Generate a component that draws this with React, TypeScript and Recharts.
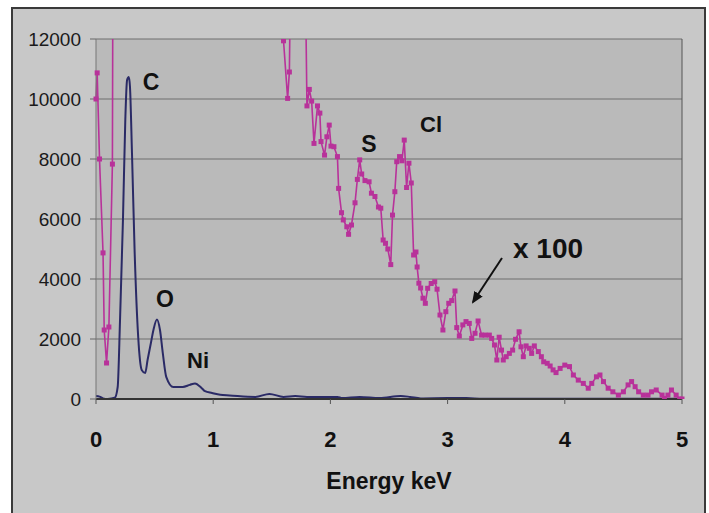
import React from 'react'
import { LineChart, Line, XAxis, YAxis, CartesianGrid, ReferenceLine } from 'recharts'

// spectrum (counts)
const spectrumE = [0, 0.03, 0.06, 0.1, 0.16, 0.185, 0.205, 0.23, 0.25, 0.265, 0.28, 0.29, 0.307, 0.33, 0.36, 0.39, 0.42, 0.44, 0.47, 0.49, 0.52, 0.546, 0.57, 0.6, 0.66, 0.74, 0.8, 0.845, 0.9, 0.93, 0.99, 1.06, 1.14, 1.36, 1.48, 1.6, 1.7, 1.8, 2.06, 2.1, 2.25, 2.42, 2.6, 2.68, 2.77, 3.0, 3.16, 3.3, 4.0, 5.0]
const spectrumCounts = [100, 80, 20, 0, 40, 400, 2630, 5970, 9300, 10630, 10730, 10400, 8200, 4870, 2070, 970, 870, 1300, 1900, 2300, 2650, 2300, 1530, 730, 400, 400, 470, 520, 370, 260, 200, 140, 120, 70, 170, 70, 100, 70, 70, 30, 70, 30, 100, 70, 20, 30, 30, 10, 10, 10]

// spectrum x 100 (values above 12000 run off the top of the plot)
const scaledE = [0, 0.01, 0.03, 0.06, 0.07, 0.09, 0.11, 0.14, 0.16, 1.58, 1.6, 1.635, 1.65, 1.665, 1.78, 1.8, 1.82, 1.84, 1.86, 1.89, 1.91, 1.92, 1.95, 1.97, 1.99, 2.005, 2.03, 2.06, 2.07, 2.095, 2.11, 2.14, 2.155, 2.18, 2.21, 2.23, 2.25, 2.267, 2.295, 2.33, 2.35, 2.38, 2.41, 2.43, 2.45, 2.47, 2.49, 2.515, 2.53, 2.55, 2.566, 2.59, 2.61, 2.63, 2.65, 2.67, 2.69, 2.71, 2.73, 2.74, 2.755, 2.77, 2.79, 2.81, 2.83, 2.86, 2.89, 2.91, 2.935, 2.96, 2.985, 3.01, 3.035, 3.063, 3.078, 3.1, 3.13, 3.157, 3.185, 3.206, 3.234, 3.26, 3.29, 3.32, 3.356, 3.376, 3.4, 3.42, 3.44, 3.46, 3.475, 3.5, 3.527, 3.555, 3.58, 3.61, 3.626, 3.646, 3.67, 3.697, 3.717, 3.74, 3.774, 3.8, 3.82, 3.85, 3.875, 3.9, 3.925, 3.96, 4.0, 4.04, 4.073, 4.115, 4.158, 4.2, 4.23, 4.27, 4.3, 4.33, 4.37, 4.41, 4.457, 4.5, 4.54, 4.57, 4.6, 4.63, 4.67, 4.71, 4.74, 4.78, 4.83, 4.85, 4.88, 4.91, 4.95, 4.98, 5.0]
const scaledCounts = [10000, 10870, 8000, 4870, 2300, 1200, 2400, 7830, 40000, 40000, 11940, 10020, 10900, 16000, 16000, 9770, 10320, 9930, 8520, 9770, 9530, 8580, 8130, 8740, 9130, 8430, 8410, 8080, 7020, 6210, 5970, 5740, 5490, 5800, 6540, 7320, 7970, 7500, 7280, 7240, 6860, 6750, 6400, 6360, 5300, 5190, 5000, 4480, 6130, 6910, 7910, 8080, 7940, 8630, 7050, 7860, 7200, 4800, 4900, 4400, 3860, 3700, 3360, 3190, 3690, 3850, 3910, 3660, 2800, 2300, 2910, 3190, 3280, 3600, 2380, 2100, 2470, 2580, 2520, 2020, 2190, 2600, 2130, 2130, 2130, 2020, 1800, 1300, 2060, 1630, 1300, 1410, 1520, 1630, 1990, 2240, 1740, 1410, 1770, 1690, 1520, 1770, 1580, 1410, 1240, 1190, 1100, 970, 880, 1020, 1130, 1080, 800, 630, 520, 360, 520, 740, 800, 580, 360, 240, 130, 240, 470, 580, 410, 240, 130, 130, 240, 300, 130, 20, 130, 300, 130, 0, 0]

const xTicks = [0, 1, 2, 3, 4, 5]
const yTicks = [0, 2000, 4000, 6000, 8000, 10000, 12000]

const spectrum = spectrumE.map((e, i) => ({ e, v: spectrumCounts[i] }))
const scaled = scaledE.map((e, i) => ({ e, v: scaledCounts[i] }))

const font = '"Liberation Sans", Arial, sans-serif'
const magenta = '#b8329a'

const SquareDot = (props: any) => {
  const { cx, cy, index } = props
  if (cx == null || cy == null) return <g key={index} />
  return <rect key={index} x={cx - 2.5} y={cy - 2.5} width={5} height={5} fill={magenta} />
}

export default function App() {
  return (
    <div style={{ position: 'absolute', left: 0, top: 0, width: 709, height: 513, background: '#fff', overflow: 'hidden' }}>
      <div style={{ position: 'absolute', left: 11, top: 7, width: 691, height: 520, background: '#c8c8c8', border: '2px solid #3a3a3a' }} />
      <div style={{ position: 'absolute', left: 0, top: 0 }}>
        <LineChart width={709} height={513} margin={{ top: 39, right: 27, bottom: 74, left: 0 }}>
          <CartesianGrid vertical={false} fill="#bababa" stroke="#6e6e6e" strokeWidth={1} />
          <XAxis
            type="number"
            dataKey="e"
            domain={[0, 5]}
            ticks={xTicks}
            height={40}
            tickSize={5}
            tickMargin={27}
            axisLine={{ stroke: '#333', strokeWidth: 2 }}
            tickLine={{ stroke: '#555' }}
            tick={{ fontSize: 22, fontWeight: 'bold', fill: '#111', fontFamily: font }}
          />
          <YAxis
            type="number"
            domain={[0, 12000]}
            allowDataOverflow
            ticks={yTicks}
            width={96}
            tickSize={6}
            tickMargin={9}
            axisLine={{ stroke: '#777' }}
            tickLine={{ stroke: '#666' }}
            tick={{ fontSize: 19, fill: '#1a1a1a', fontFamily: font }}
          />
          <ReferenceLine x={5} stroke="#555" />
          <Line
            data={spectrum}
            dataKey="v"
            type="monotone"
            stroke="#2a2a66"
            strokeWidth={2}
            dot={false}
            isAnimationActive={false}
          />
          <Line
            data={scaled}
            dataKey="v"
            type="linear"
            stroke={magenta}
            strokeWidth={1.6}
            dot={SquareDot}
            isAnimationActive={false}
          />
        </LineChart>
      </div>
      <svg width={709} height={513} style={{ position: 'absolute', left: 0, top: 0, pointerEvents: 'none' }}>
        <defs>
          <marker id="ah" markerWidth="12" markerHeight="10" refX="10" refY="5" orient="auto" markerUnits="userSpaceOnUse" viewBox="0 0 12 10">
            <path d="M0,0 L12,5 L0,10 z" fill="#111" />
          </marker>
        </defs>
        <g fontFamily={font} fontWeight="bold" fill="#111">
          <text x={151} y={90} fontSize={23} textAnchor="middle">C</text>
          <text x={165} y={307} fontSize={23} textAnchor="middle">O</text>
          <text x={198} y={368} fontSize={22} textAnchor="middle">Ni</text>
          <text x={369} y={152} fontSize={23} textAnchor="middle">S</text>
          <text x={431} y={132} fontSize={22} textAnchor="middle">Cl</text>
          <text x={513} y={258} fontSize={28}>x 100</text>
          <text x={389} y={489} fontSize={23} textAnchor="middle">Energy keV</text>
        </g>
        <line x1={502} y1={258} x2={473} y2={302} stroke="#111" strokeWidth={2} markerEnd="url(#ah)" />
      </svg>
    </div>
  )
}
